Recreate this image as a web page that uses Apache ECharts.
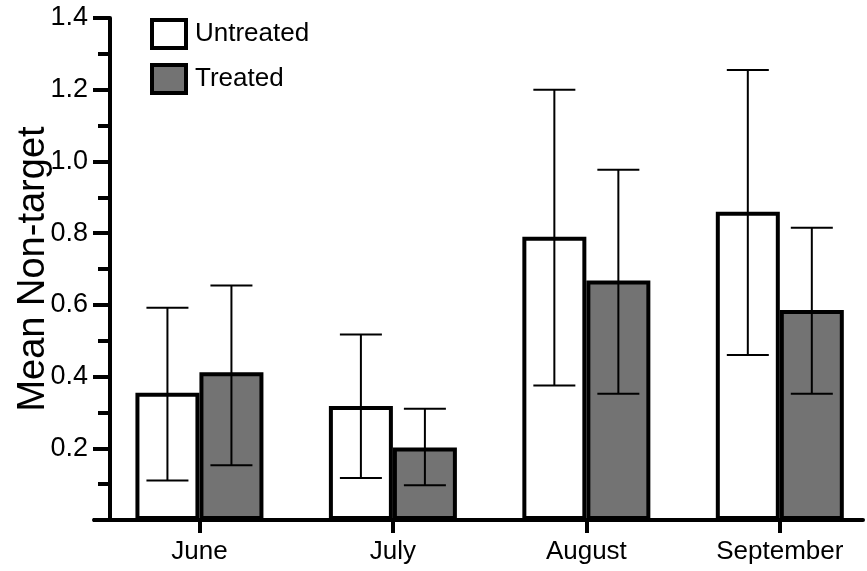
<!DOCTYPE html>
<html>
<head>
<meta charset="utf-8">
<script src="https://cdn.jsdelivr.net/npm/echarts@6/dist/echarts.min.js"></script>
<style>html,body{margin:0;padding:0;background:#fff}#c{width:867px;height:571px}</style>
</head>
<body>
<div id="c"></div>
<script>
const months = ['June', 'July', 'August', 'September'];
const monthPos = [1, 2, 3, 4];
const untreated = [0.355, 0.318, 0.79, 0.86];
const treated = [0.412, 0.202, 0.668, 0.586];
const untreatedLow = [0.11, 0.117, 0.375, 0.46];
const untreatedHigh = [0.592, 0.517, 1.2, 1.255];
const treatedLow = [0.153, 0.097, 0.352, 0.352];
const treatedHigh = [0.654, 0.31, 0.977, 0.815];
const yTicks = [0.2, 0.4, 0.6, 0.8, 1.0, 1.2, 1.4];

const FONT = 'Liberation Sans';
const BAR_W = 64;
const CAP = 21;

function errSeries(name, low, high, side) {
  return {
    name: name + ' error',
    type: 'custom',
    z: 10,
    silent: true,
    data: monthPos.map((m, i) => [m, low[i], high[i]]),
    renderItem: function (params, api) {
      const x = api.value(0);
      const lo = api.coord([x, api.value(1)]);
      const hi = api.coord([x, api.value(2)]);
      const cx = lo[0] + side * BAR_W / 2;
      const st = { stroke: '#000', lineWidth: 2 };
      return {
        type: 'group',
        children: [
          { type: 'line', shape: { x1: cx, y1: lo[1], x2: cx, y2: hi[1] }, style: st },
          { type: 'line', shape: { x1: cx - CAP, y1: lo[1], x2: cx + CAP, y2: lo[1] }, style: st },
          { type: 'line', shape: { x1: cx - CAP, y1: hi[1], x2: cx + CAP, y2: hi[1] }, style: st }
        ]
      };
    }
  };
}

const chart = echarts.init(document.getElementById('c'), null, { renderer: 'canvas' });
chart.setOption({
  animation: false,
  backgroundColor: '#fff',
  textStyle: { fontFamily: FONT, color: '#000' },
  grid: { left: 94, right: 4, top: 18, bottom: 51, containLabel: false, outerBoundsMode: 'none' },
  legend: {
    orient: 'vertical',
    left: 145,
    top: 13,
    itemWidth: 34,
    itemHeight: 28,
    itemGap: 13,
    icon: 'rect',
    textStyle: { fontFamily: FONT, fontSize: 26, color: '#000', padding: [0, 0, 0, 4] },
    data: [
      { name: 'Untreated', itemStyle: { color: '#fff', borderColor: '#000', borderWidth: 4 } },
      { name: 'Treated', itemStyle: { color: '#737373', borderColor: '#000', borderWidth: 4 } }
    ]
  },
  xAxis: {
    type: 'value',
    min: 0.455,
    max: 4.43,
    splitLine: { show: false },
    axisLine: { show: true, lineStyle: { color: '#000', width: 4 } },
    axisTick: { show: true, customValues: monthPos, length: 13, lineStyle: { color: '#000', width: 4 } },
    axisLabel: {
      customValues: monthPos,
      formatter: v => months[monthPos.indexOf(v)] || '',
      fontFamily: FONT, fontSize: 26, color: '#000', margin: 19
    }
  },
  yAxis: {
    type: 'value',
    min: 0,
    max: 1.4,
    interval: 0.2,
    offset: -16,
    splitLine: { show: false },
    axisLine: { show: true, lineStyle: { color: '#000', width: 4 } },
    axisTick: { show: true, length: 17, lineStyle: { color: '#000', width: 4 } },
    minorTick: { show: true, splitNumber: 2, length: 12, lineStyle: { color: '#000', width: 4 } },
    axisLabel: {
      formatter: v => { const t = yTicks.find(k => Math.abs(k - v) < 1e-6); return t === undefined ? '' : t.toFixed(1); },
      fontFamily: FONT, fontSize: 27, color: '#000', margin: 22
    },
    name: 'Mean Non-target',
    nameLocation: 'middle',
    nameGap: 57,
    nameMoveOverlap: false,
    nameTextStyle: { fontFamily: FONT, fontSize: 38, color: '#000' }
  },
  series: [
    {
      name: 'Untreated',
      type: 'bar',
      barWidth: BAR_W,
      barGap: '0%',
      data: monthPos.map((m, i) => [m, untreated[i]]),
      itemStyle: { color: '#fff', borderColor: '#000', borderWidth: 4 }
    },
    {
      name: 'Treated',
      type: 'bar',
      barWidth: BAR_W,
      barGap: '0%',
      data: monthPos.map((m, i) => [m, treated[i]]),
      itemStyle: { color: '#737373', borderColor: '#000', borderWidth: 4 }
    },
    errSeries('Untreated', untreatedLow, untreatedHigh, -1),
    errSeries('Treated', treatedLow, treatedHigh, 1)
  ]
});
</script>
</body>
</html>
